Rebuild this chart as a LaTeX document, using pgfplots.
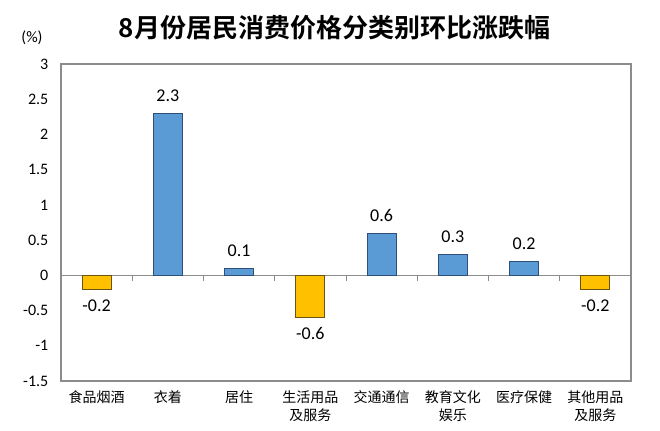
\documentclass[border=0pt]{standalone}
\usepackage{pgfplots}
\pgfplotsset{compat=1.18}
\usepackage{fontspec}
\setmainfont{Carlito}
\newfontfamily\zhfont{Noto Sans CJK SC}
\newfontfamily\zhbold{Noto Sans CJK SC Bold}
\definecolor{barblue}{HTML}{5B9BD5}
\definecolor{bluedge}{HTML}{2F4F7A}
\definecolor{baryel}{HTML}{FFC000}
\definecolor{yeledge}{HTML}{6B5410}
\definecolor{axgray}{HTML}{8C8C8C}
\begin{document}
\begin{tikzpicture}[x=1pt,y=1pt]
\path[use as bounding box] (0,0) rectangle (495,-322.5);
\node[font=\zhbold\fontsize{19.5}{21}\selectfont, anchor=center] at (251,-20.5) {8月份居民消费价格分类别环比涨跌幅};
\node[font=\fontsize{12}{14}\selectfont, anchor=center] at (24,-28) {(\%)};
\begin{axis}[
  at={(45.75pt,-48pt)}, anchor=north west,
  scale only axis, width=427.5pt, height=237.75pt,
  xmin=-0.5, xmax=7.5, ymin=-1.5, ymax=3,
  ytick={-1.5,-1,-0.5,0,0.5,1,1.5,2,2.5,3},
  xtick={0,1,2,3,4,5,6,7},
  xticklabels={{食品烟酒},{衣着},{居住},{生活用品\\及服务},{交通通信},{教育文化\\娱乐},{医疗保健},{其他用品\\及服务}},
  xticklabel style={font=\zhfont\fontsize{10.5}{13.5}\selectfont, align=center, anchor=north, yshift=-4pt},
  yticklabel style={font=\fontsize{12}{14}\selectfont, xshift=-6pt},
  /pgf/number format/assume math mode=true,
  major tick length=0pt,
  axis line style={axgray, line width=0.8pt},
  clip=false,
  ybar, bar width=21.75pt,
  nodes near coords,
  every node near coord/.append style={font=\fontsize{13.5}{15}\selectfont, text=black},
]
\draw[axgray, line width=0.8pt] (axis cs:-0.5,0) -- (axis cs:7.5,0);
\pgfplotsinvokeforeach{0.5,1.5,2.5,3.5,4.5,5.5,6.5}{
  \draw[axgray, line width=0.6pt] (axis cs:#1,0) -- (axis cs:#1,-0.075);
}
\addplot[fill=barblue, draw=bluedge, line width=0.6pt, bar shift=0pt,
  every node near coord/.append style={anchor=south, yshift=5pt}]
  coordinates {(1,2.3) (2,0.1) (4,0.6) (5,0.3) (6,0.2)};
\addplot[fill=baryel, draw=yeledge, line width=0.6pt, bar shift=0pt,
  every node near coord/.append style={anchor=north, yshift=-4pt}]
  coordinates {(0,-0.2) (3,-0.6) (7,-0.2)};
\end{axis}
\end{tikzpicture}
\end{document}
